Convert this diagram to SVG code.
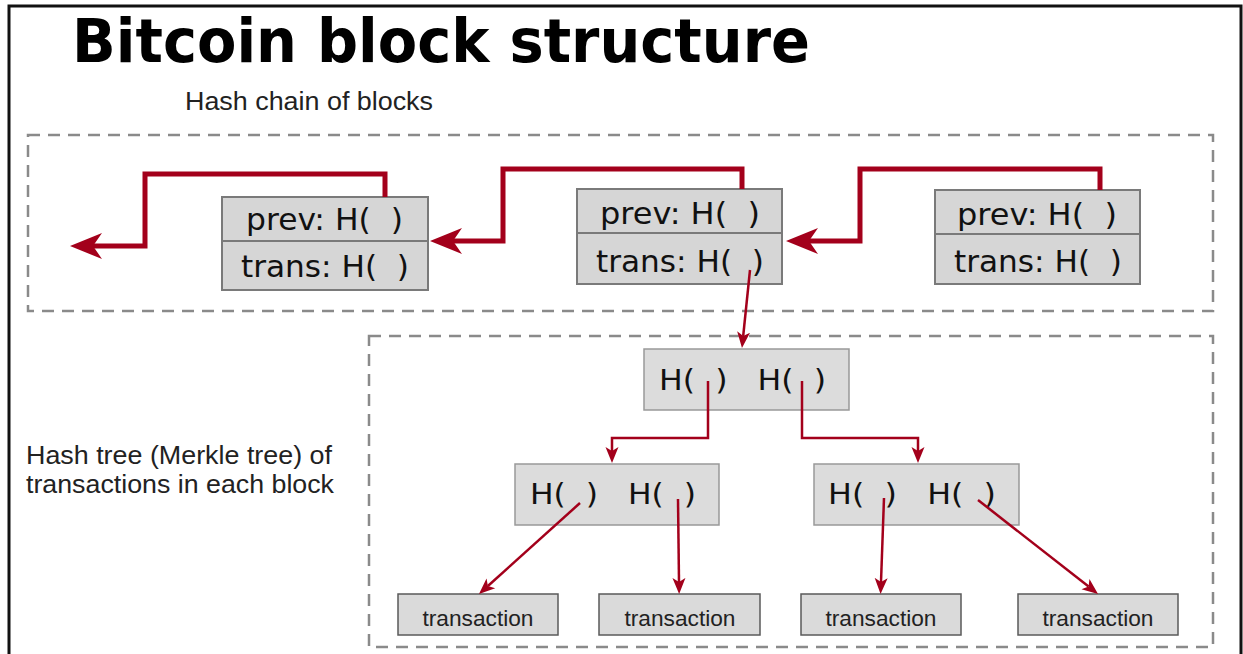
<svg xmlns="http://www.w3.org/2000/svg" width="1243" height="654" viewBox="0 0 1243 654">
  <style>
    .frame { fill: #ffffff; stroke: #111111; stroke-width: 3; }
    .dash { fill: none; stroke: #8a8a8a; stroke-width: 2.5; stroke-dasharray: 12 8; }
    .blk { fill: #d6d6d6; stroke: #7a7a7a; stroke-width: 2; }
    .mk { fill: #dcdcdc; stroke: #999999; stroke-width: 1.5; }
    .tx { fill: #dadada; stroke: #5a5a5a; stroke-width: 1.5; }
    .bt { font-family: "DejaVu Sans", Verdana, sans-serif; font-size: 31px; fill: #111111; white-space: pre; }
    .ht { font-family: "DejaVu Sans", Verdana, sans-serif; font-size: 29px; fill: #111111; white-space: pre; }
    .lbl { font-family: "Liberation Sans", Arial, sans-serif; font-size: 26px; fill: #222222; }
    .txt { font-family: "Liberation Sans", Arial, sans-serif; font-size: 22px; fill: #222222; text-anchor: middle; }
    .title { font-family: "DejaVu Sans", Verdana, sans-serif; font-size: 60px; font-weight: bold; fill: #000000; }
    .thick { fill: none; stroke: #a3001b; stroke-width: 5; stroke-linejoin: miter; }
    .thin { fill: none; stroke: #a3001b; stroke-width: 2.5; }
  </style>
  <defs>
    <marker id="bigHead" markerUnits="userSpaceOnUse" viewBox="0 -14 32 28" markerWidth="32" markerHeight="28" refX="9" refY="0" orient="auto">
      <path d="M32,0 L0,-13 L9,0 L0,13 Z" fill="#a3001b"/>
    </marker>
    <marker id="smallHead" markerUnits="userSpaceOnUse" viewBox="0 -7 16 14" markerWidth="16" markerHeight="14" refX="4" refY="0" orient="auto">
      <path d="M16,0 L0,-6.5 L4,0 L0,6.5 Z" fill="#a3001b"/>
    </marker>
  </defs>

  <rect class="frame" x="9" y="6" width="1232" height="660"/>

  <text class="title" x="72" y="62" textLength="738" lengthAdjust="spacingAndGlyphs">Bitcoin block structure</text>
  <text class="lbl" x="185" y="110" textLength="248" lengthAdjust="spacingAndGlyphs">Hash chain of blocks</text>
  <text class="lbl" x="26" y="464" textLength="306" lengthAdjust="spacingAndGlyphs">Hash tree (Merkle tree) of</text>
  <text class="lbl" x="26" y="493" textLength="308" lengthAdjust="spacingAndGlyphs">transactions in each block</text>

  <rect class="dash" x="28" y="135" width="1185" height="176"/>
  <rect class="dash" x="369" y="336" width="844" height="311"/>

  <g id="block1">
    <rect class="blk" x="222" y="197" width="206" height="44"/>
    <rect class="blk" x="222" y="241" width="206" height="49"/>
    <text class="bt" x="246" y="230" textLength="157" lengthAdjust="spacingAndGlyphs">prev: H(  )</text>
    <text class="bt" x="241" y="277" textLength="168" lengthAdjust="spacingAndGlyphs">trans: H(  )</text>
  </g>
  <g id="block2">
    <rect class="blk" x="577" y="189" width="205" height="44"/>
    <rect class="blk" x="577" y="233" width="205" height="51"/>
    <text class="bt" x="600" y="224" textLength="160" lengthAdjust="spacingAndGlyphs">prev: H(  )</text>
    <text class="bt" x="596" y="272" textLength="168" lengthAdjust="spacingAndGlyphs">trans: H(  )</text>
  </g>
  <g id="block3">
    <rect class="blk" x="935" y="190" width="205" height="44"/>
    <rect class="blk" x="935" y="234" width="205" height="50"/>
    <text class="bt" x="957" y="225" textLength="160" lengthAdjust="spacingAndGlyphs">prev: H(  )</text>
    <text class="bt" x="954" y="272" textLength="168" lengthAdjust="spacingAndGlyphs">trans: H(  )</text>
  </g>

  <g id="root">
    <rect class="mk" x="644" y="349" width="205" height="61"/>
    <text class="ht" x="659" y="390" textLength="167" lengthAdjust="spacingAndGlyphs">H(  )   H(  )</text>
  </g>
  <g id="midLeft">
    <rect class="mk" x="515" y="464" width="204" height="61"/>
    <text class="ht" x="530" y="504" textLength="166" lengthAdjust="spacingAndGlyphs">H(  )   H(  )</text>
  </g>
  <g id="midRight">
    <rect class="mk" x="814" y="464" width="205" height="61"/>
    <text class="ht" x="828" y="504" textLength="168" lengthAdjust="spacingAndGlyphs">H(  )   H(  )</text>
  </g>

  <g id="tx1">
    <rect class="tx" x="398" y="594" width="160" height="41"/>
    <text class="txt" x="478" y="626" textLength="111" lengthAdjust="spacingAndGlyphs">transaction</text>
  </g>
  <g id="tx2">
    <rect class="tx" x="599" y="594" width="161" height="41"/>
    <text class="txt" x="680" y="626" textLength="111" lengthAdjust="spacingAndGlyphs">transaction</text>
  </g>
  <g id="tx3">
    <rect class="tx" x="801" y="594" width="160" height="41"/>
    <text class="txt" x="881" y="626" textLength="111" lengthAdjust="spacingAndGlyphs">transaction</text>
  </g>
  <g id="tx4">
    <rect class="tx" x="1018" y="594" width="160" height="41"/>
    <text class="txt" x="1098" y="626" textLength="111" lengthAdjust="spacingAndGlyphs">transaction</text>
  </g>

  <g id="connectors">
    <path class="thick" d="M385,197 V174 H145 V246 H93" marker-end="url(#bigHead)"/>
    <path class="thick" d="M742,189 V169 H503 V241 H453" marker-end="url(#bigHead)"/>
    <path class="thick" d="M1100,190 V169 H860 V241 H809" marker-end="url(#bigHead)"/>
    <path class="thin" d="M750,270 L743.2,336" marker-end="url(#smallHead)"/>
    <path class="thin" d="M708,381 V438 H612 V451" marker-end="url(#smallHead)"/>
    <path class="thin" d="M802,381 V438 H918 V451" marker-end="url(#smallHead)"/>
    <path class="thin" d="M580,503 L487.9,586" marker-end="url(#smallHead)"/>
    <path class="thin" d="M678,499 L679,582" marker-end="url(#smallHead)"/>
    <path class="thin" d="M884,498 L881,582" marker-end="url(#smallHead)"/>
    <path class="thin" d="M978,500 L1088.6,586.6" marker-end="url(#smallHead)"/>
  </g>
</svg>
